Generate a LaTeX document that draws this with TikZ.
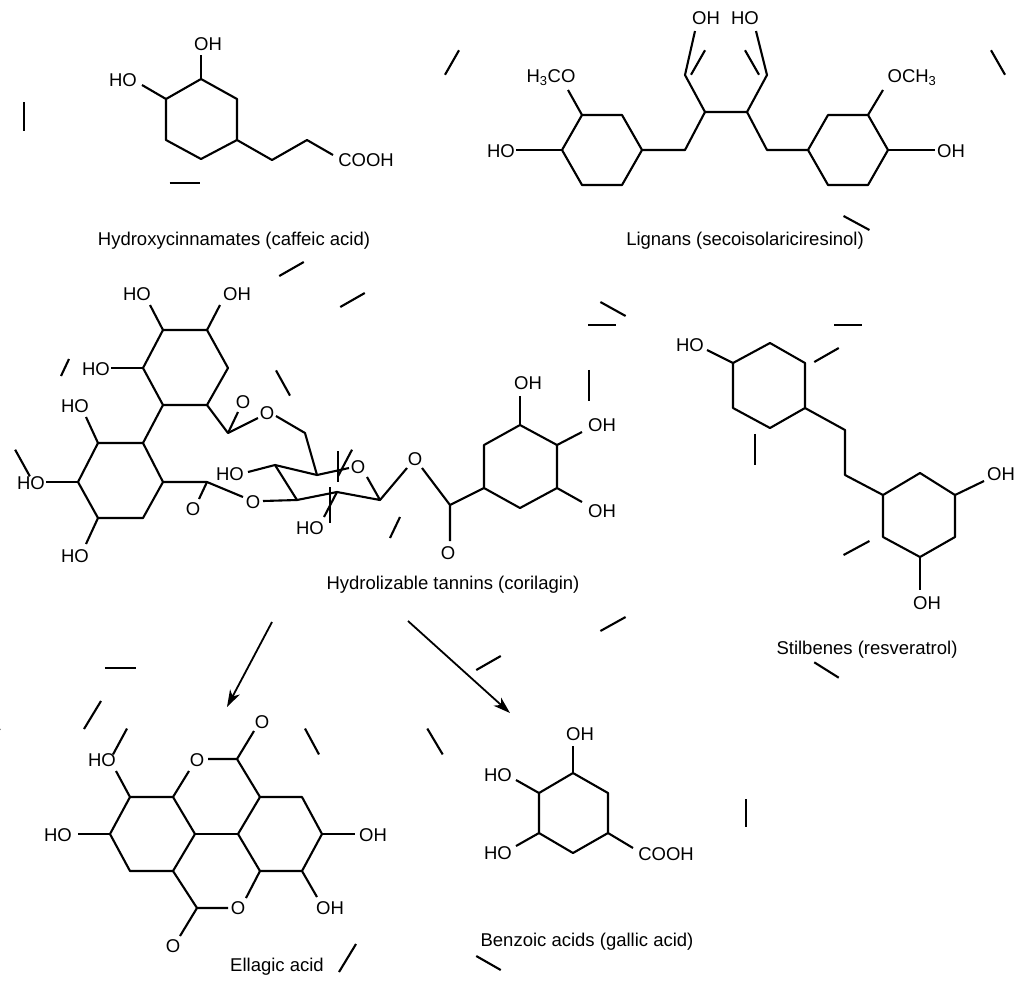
\documentclass[tikz,border=0pt]{standalone}
\usepackage{fontspec}
\setmainfont{Liberation Sans}
\usetikzlibrary{calc,arrows.meta}
\newcommand\dbond[3]{\draw let \p1=($(#1)!0.5!(#2)$), \p2=($(\p1)!6!(#3)$) in ($(#1)!0.15!(#2)+(\x2-\x1,\y2-\y1)$) -- ($(#2)!0.15!(#1)+(\x2-\x1,\y2-\y1)$);}
\newcommand\cbond[3]{\draw let \p1=($(#1)!0.5!(#2)$), \p2=($(\p1)!6!(#3)$) in ($(#1)+(\x2-\x1,\y2-\y1)$) -- ($(#2)+(\x2-\x1,\y2-\y1)$);}
\begin{document}
\begin{tikzpicture}[x=1pt,y=-1pt,line width=2.1pt,line join=round,
  every node/.style={inner sep=0pt,font=\fontsize{18.5}{20}\selectfont},
  arr/.style={line width=1.8pt,-{Stealth[length=17pt,width=11pt,inset=5pt]}}]
\useasboundingbox (0,0) rectangle (1024,986);
% ---------- caffeic acid
\coordinate (a1) at (201,79);\coordinate (a2) at (237,99);\coordinate (a3) at (237,140);
\coordinate (a4) at (201,159);\coordinate (a5) at (166,140);\coordinate (a6) at (166,99);
\coordinate (ac) at (201.5,119);
\draw (a1)--(a2)--(a3)--(a4)--(a5)--(a6)--cycle;
\dbond{a6}{a1}{ac}\dbond{a2}{a3}{ac}\dbond{a5}{a4}{ac}
\draw (a1)--(201,55); \node (aoh) at (208,44) {OH};
\draw (a6)--(142,85); \node (aho) at (123,80) {HO};
\coordinate (a7) at (272,160);\coordinate (a8) at (307,140);
\draw (a3)--(a7)--(a8)--(333,155); \dbond{a7}{a8}{300,175}
\node (acooh) at (366,160) {COOH};
\node (lab1) at (234,241) {Hydroxycinnamates (caffeic acid)};
% ---------- lignan
\coordinate (l1) at (562,150);\coordinate (l2) at (582,115);\coordinate (l3) at (622,115);
\coordinate (l4) at (642,150);\coordinate (l5) at (622,185);\coordinate (l6) at (582,185);
\coordinate (lc) at (602,150);
\draw (l1)--(l2)--(l3)--(l4)--(l5)--(l6)--cycle;
\dbond{l2}{l3}{lc}\dbond{l4}{l5}{lc}\dbond{l1}{l6}{lc}
\draw (l2)--(568,90); \node (lmeo) at (551,78) {H\textsubscript{3}CO};
\draw (l1)--(516,150); \node (lho) at (501,151) {HO};
\coordinate (m1) at (685,150);\coordinate (m2) at (705,112);\coordinate (m3) at (747,112);
\coordinate (m4) at (767,150);\coordinate (m5) at (808,150);
\draw (l4)--(m1)--(m2)--(m3)--(m4)--(m5);
\draw (m2)--(685,75)--(695,31); \node (loh1) at (706,18) {OH};
\draw (m3)--(767,75)--(756,31); \node (lho2) at (745,18) {HO};
\coordinate (r1) at (808,150);\coordinate (r2) at (828,115);\coordinate (r3) at (868,115);
\coordinate (r4) at (888,150);\coordinate (r5) at (868,185);\coordinate (r6) at (828,185);
\coordinate (rc) at (848,150);
\draw (r1)--(r2)--(r3)--(r4)--(r5)--(r6)--cycle;
\dbond{r2}{r3}{rc}\dbond{r4}{r5}{rc}\dbond{r1}{r6}{rc}
\draw (r3)--(883,90); \node (lome) at (912,78) {OCH\textsubscript{3}};
\draw (r4)--(935,150); \node (loh2) at (951,151) {OH};
\node (lab2) at (745,241) {Lignans (secoisolariciresinol)};
% ---------- corilagin
\coordinate (t1) at (163,330);\coordinate (t2) at (207,330);\coordinate (t3) at (228,368);
\coordinate (t4) at (207,405);\coordinate (t5) at (163,405);\coordinate (t6) at (143,368);
\coordinate (tc) at (185,368);
\draw (t1)--(t2)--(t3)--(t4)--(t5)--(t6)--cycle;
\dbond{t6}{t1}{tc}\dbond{t2}{t3}{tc}\dbond{t5}{t4}{tc}
\draw (t1)--(150,305); \node (tho1) at (137,294) {HO};
\draw (t2)--(220,305); \node (toh1) at (237,294) {OH};
\draw (t6)--(111,368); \node (tho2) at (96,369) {HO};
\coordinate (b1) at (98,443);\coordinate (b2) at (143,443);\coordinate (b3) at (163,482);
\coordinate (b4) at (143,518);\coordinate (b5) at (98,518);\coordinate (b6) at (78,482);
\coordinate (bc) at (120.5,480.5);
\draw (b1)--(b2)--(b3)--(b4)--(b5)--(b6)--cycle;
\dbond{b1}{b2}{bc}\dbond{b6}{b5}{bc}\dbond{b3}{b4}{bc}
\draw (t5)--(b2);
\draw (b1)--(86,417); \node (bho1) at (75,406) {HO};
\draw (b6)--(46,482); \node (bho2) at (31,483) {HO};
\draw (b5)--(86,544); \node (bho3) at (75,556) {HO};
% top ester
\coordinate (e1) at (228,433);\coordinate (e1o) at (238,412);
\draw (t4)--(e1)--(258,418); \draw (e1)--(e1o); \cbond{e1}{e1o}{260,440}
\node (eo1) at (243,402) {O}; \node (eo2) at (267,413) {O};
\coordinate (s6) at (305,433);
\draw (276,416)--(s6)--(317,475);
% bottom ester
\coordinate (e2) at (207,482);\coordinate (e2o) at (199,499);
\draw (b3)--(e2)--(243,497); \draw (e2)--(e2o); \cbond{e2}{e2o}{180,470}
\node (eo3) at (193,509) {O}; \node (eo4) at (253,502) {O};
% sugar
\coordinate (s5) at (317,475);\coordinate (s4) at (275,465);\coordinate (s3) at (297,500);
\coordinate (s2) at (337,492);\coordinate (s1) at (380,500);
\draw (s4)--(s5)--(349,468); \node (so) at (358,467) {O};
\draw (367,477)--(s1)--(s2)--(s3)--(s4);
\draw (s3)--(263,501);
\draw (s4)--(248,472); \node (sho1) at (230,474) {HO};
\draw (s2)--(324,517); \node (sho2) at (310,528) {HO};
\draw (s1)--(407,468); \node (so2) at (415,459) {O};
\coordinate (g0) at (450,505);\coordinate (g0o) at (450,541);
\draw (422,468)--(g0)--(g0o); \cbond{g0}{g0o}{430,520}
\node (go) at (448,553) {O};
\coordinate (g1) at (484,488);\coordinate (g2) at (484,445);\coordinate (g3) at (520,425);
\coordinate (g4) at (557,445);\coordinate (g5) at (557,488);\coordinate (g6) at (520,508);
\coordinate (gc) at (520.5,466.5);
\draw (g0)--(g1);
\draw (g1)--(g2)--(g3)--(g4)--(g5)--(g6)--cycle;
\dbond{g2}{g3}{gc}\dbond{g4}{g5}{gc}\dbond{g1}{g6}{gc}
\draw (g3)--(520,396); \node (goh1) at (528,383) {OH};
\draw (g4)--(582,432); \node (goh2) at (602,425) {OH};
\draw (g5)--(582,502); \node (goh3) at (602,511) {OH};
\node (lab3) at (453,585) {Hydrolizable tannins (corilagin)};
% ---------- resveratrol
\coordinate (v1) at (770,343);\coordinate (v2) at (805,363);\coordinate (v3) at (805,408);
\coordinate (v4) at (770,428);\coordinate (v5) at (733,408);\coordinate (v6) at (733,363);
\coordinate (vc) at (769,385.5);
\draw (v1)--(v2)--(v3)--(v4)--(v5)--(v6)--cycle;
\dbond{v6}{v1}{vc}\dbond{v2}{v3}{vc}\dbond{v5}{v4}{vc}
\draw (v6)--(707,350); \node (vho) at (690,345) {HO};
\coordinate (v7) at (845,430);\coordinate (v8) at (845,475);
\coordinate (w1) at (883,495);\coordinate (w2) at (920,473);\coordinate (w3) at (955,495);
\coordinate (w4) at (955,537);\coordinate (w5) at (920,557);\coordinate (w6) at (883,537);
\coordinate (wc) at (919,515);
\draw (v3)--(v7)--(v8)--(w1); \dbond{v7}{v8}{830,452}
\draw (w1)--(w2)--(w3)--(w4)--(w5)--(w6)--cycle;
\dbond{w2}{w3}{wc}\dbond{w1}{w6}{wc}\dbond{w4}{w5}{wc}
\draw (w3)--(984,481); \node (woh1) at (1001,474) {OH};
\draw (w5)--(920,590); \node (woh2) at (927,603) {OH};
\node (lab4) at (867,650) {Stilbenes (resveratrol)};
% ---------- arrows
\coordinate (p1) at (272,622);\coordinate (q1) at (227,707);
\coordinate (p2) at (408,621);\coordinate (q2) at (510,713);
\draw[arr] (p1)--(q1); \draw[arr] (p2)--(q2);
% ---------- ellagic acid
\coordinate (x1) at (130,797);\coordinate (x2) at (173,797);\coordinate (x3) at (195,834);
\coordinate (x4) at (173,871);\coordinate (x5) at (130,871);\coordinate (x6) at (110,834);
\coordinate (xc) at (152,834);
\draw (x1)--(x2)--(x3)--(x4)--(x5)--(x6)--cycle;
\dbond{x1}{x2}{xc}\dbond{x6}{x5}{xc}\dbond{x3}{x4}{xc}
\coordinate (y1) at (260,797);\coordinate (y2) at (302,797);\coordinate (y3) at (322,834);
\coordinate (y4) at (302,871);\coordinate (y5) at (260,871);\coordinate (y6) at (238,834);
\coordinate (yc) at (280,834);
\draw (y1)--(y2)--(y3)--(y4)--(y5)--(y6)--cycle;
\dbond{y1}{y2}{yc}\dbond{y6}{y5}{yc}\dbond{y3}{y4}{yc}
\draw (x3)--(y6);
\coordinate (k1) at (237,759);\coordinate (k1o) at (254,731);
\draw (x2)--(189,771); \node (ko1) at (197,760) {O};
\draw (208,759)--(k1)--(y1); \draw (k1)--(k1o); \cbond{k1}{k1o}{220,740}
\node (ko2) at (262,722) {O};
\coordinate (k2) at (197,908);\coordinate (k2o) at (180,936);
\draw (x4)--(k2)--(228,908); \node (ko3) at (238,908) {O};
\draw (246,898)--(y5); \draw (k2)--(k2o); \cbond{k2}{k2o}{215,928}
\node (ko4) at (173,946) {O};
\draw (x1)--(116,771); \node (xho1) at (102,760) {HO};
\draw (x6)--(78,834); \node (xho2) at (58,835) {HO};
\draw (y3)--(355,834); \node (yoh1) at (373,835) {OH};
\draw (y4)--(317,897); \node (yoh2) at (330,908) {OH};
\node (lab5) at (277,967) {Ellagic acid};
% ---------- gallic acid
\coordinate (z1) at (573,773);\coordinate (z2) at (608,793);\coordinate (z3) at (608,833);
\coordinate (z4) at (573,853);\coordinate (z5) at (539,833);\coordinate (z6) at (539,793);
\coordinate (zc) at (573.5,813);
\draw (z1)--(z2)--(z3)--(z4)--(z5)--(z6)--cycle;
\dbond{z1}{z2}{zc}\dbond{z6}{z5}{zc}\dbond{z3}{z4}{zc}
\draw (z1)--(573,746); \node (zoh) at (580,734) {OH};
\draw (z6)--(516,780); \node (zho1) at (498,775) {HO};
\draw (z5)--(516,846); \node (zho2) at (498,853) {HO};
\draw (z3)--(633,848); \node (zcooh) at (666,854) {COOH};
\node (lab6) at (587,942) {Benzoic acids (gallic acid)};
\end{tikzpicture}
\end{document}
